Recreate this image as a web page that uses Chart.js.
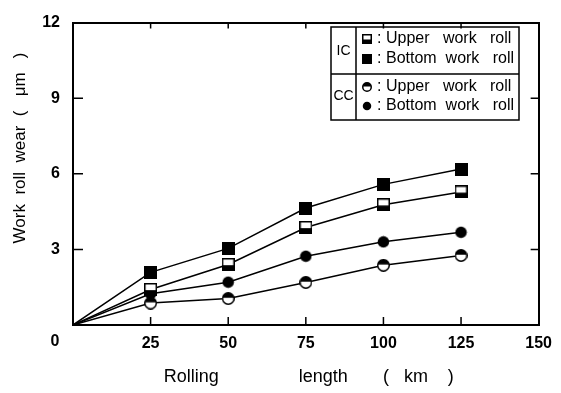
<!DOCTYPE html>
<html><head><meta charset="utf-8">
<script src="https://cdn.jsdelivr.net/npm/chart.js@4.4.1/dist/chart.umd.min.js"></script>
<style>html,body{margin:0;padding:0;background:#fff}#wrap{width:561px;height:393px;position:relative}</style>
</head><body><div id="wrap"><canvas id="c" width="561" height="393"></canvas></div>
<script>
// ---- data ----
const rollingLength = [0, 25, 50, 75, 100, 125];
const icUpper  = [0, 1.41, 2.40, 3.87, 4.77, 5.28];
const icBottom = [0, 2.09, 3.04, 4.64, 5.58, 6.19];
const ccUpper  = [0, 0.87, 1.05, 1.69, 2.37, 2.76];
const ccBottom = [0, 1.24, 1.70, 2.73, 3.30, 3.68];
const xTicks = [0, 25, 50, 75, 100, 125, 150];
const yTicks = [0, 3, 6, 9, 12];
const legendGroups = ['IC', 'CC'];
const legendLabels = ['Upper   work   roll', 'Bottom  work   roll'];
const xTitle = 'Rolling                length       (   km    )';
const yTitle = 'Work  roll  wear  (   μm   )';

const FONT = "'Liberation Sans', Arial, sans-serif";

function marker(shape, half, size) {
  const c = document.createElement('canvas');
  c.width = size; c.height = size;
  const g = c.getContext('2d');
  const lw = 1.5, h = size / 2;
  g.lineWidth = lw; g.strokeStyle = '#000'; g.fillStyle = '#000';
  if (shape === 'square') {
    if (!half) { g.fillRect(0, 0, size, size); }
    else {
      g.fillStyle = '#fff'; g.fillRect(0, 0, size, size);
      g.fillStyle = '#000'; g.fillRect(0, size * 0.55, size, size * 0.45);
      g.strokeRect(lw / 2, lw / 2, size - lw, size - lw);
    }
  } else {
    const r = h - lw / 2;
    g.beginPath(); g.arc(h, h, r, 0, 2 * Math.PI);
    g.fillStyle = half ? '#fff' : '#000'; g.fill();
    if (half) {
      g.save(); g.beginPath(); g.rect(0, 0, size, size * 0.45); g.clip();
      g.beginPath(); g.arc(h, h, r, 0, 2 * Math.PI); g.fillStyle = '#000'; g.fill();
      g.restore();
      g.beginPath(); g.arc(h, h, r, 0, 2 * Math.PI); g.stroke();
    }
  }
  return c;
}

const mk = {
  icUpper: marker('square', true, 13), icBottom: marker('square', false, 13),
  ccUpper: marker('circle', true, 13), ccBottom: marker('circle', false, 13)
};
const lg = [
  [marker('square', true, 10), marker('square', false, 10)],
  [marker('circle', true, 10), marker('circle', false, 10)]
];

function ds(label, vals, img) {
  return {
    label, data: rollingLength.map((x, i) => ({ x, y: vals[i] })),
    borderColor: '#000', borderWidth: 1.5, tension: 0, fill: false,
    pointStyle: img, pointRadius: c => c.dataIndex === 0 ? 0 : 6
  };
}

const decor = {
  id: 'decor',
  afterDraw(chart) {
    const { ctx, chartArea: a, scales: { x, y } } = chart;
    ctx.save();
    ctx.strokeStyle = '#000'; ctx.lineWidth = 1.5;
    // inward ticks
    ctx.beginPath();
    yTicks.forEach(v => {
      if (v === 0 || v === 12) return;
      const py = y.getPixelForValue(v);
      ctx.moveTo(a.left, py); ctx.lineTo(a.left + 10, py);
      ctx.moveTo(a.right, py); ctx.lineTo(a.right - 8, py);
    });
    xTicks.forEach(v => {
      if (v === 0 || v === 150) return;
      const px = x.getPixelForValue(v);
      ctx.moveTo(px, a.bottom); ctx.lineTo(px, a.bottom - 8);
      ctx.moveTo(px, a.top); ctx.lineTo(px, a.top + 6);
    });
    ctx.stroke();
    // origin label
    ctx.fillStyle = '#000';
    ctx.font = "bold 16px " + FONT;
    ctx.textAlign = 'center'; ctx.textBaseline = 'middle';
    ctx.fillText('0', a.left - 18, a.bottom + 17);
    // axis titles
    ctx.font = "18px " + FONT;
    ctx.fillText(xTitle, (a.left + a.right) / 2 + 3, 377);
    ctx.save();
    ctx.translate(20, 148); ctx.rotate(-Math.PI / 2);
    ctx.font = "17px " + FONT;
    ctx.fillText(yTitle, 0, 0);
    ctx.restore();
    // legend box
    const L = 331, R = 519, T = 27, B = 120, M = 74, V = 356;
    ctx.lineWidth = 1.5;
    ctx.strokeRect(L, T, R - L, B - T);
    ctx.beginPath();
    ctx.moveTo(L, M); ctx.lineTo(R, M);
    ctx.moveTo(V, T); ctx.lineTo(V, B);
    ctx.stroke();
    const rowsY = [[39, 59], [87, 106]];
    legendGroups.forEach((gname, gi) => {
      ctx.font = "14px " + FONT; ctx.textAlign = 'center';
      ctx.fillText(gname, (L + V) / 2, gi === 0 ? 51 : 96);
      legendLabels.forEach((lab, li) => {
        const yy = rowsY[gi][li];
        const img = lg[gi][li];
        ctx.drawImage(img, 367 - img.width / 2, yy - img.height / 2);
        ctx.font = "16px " + FONT; ctx.textAlign = 'left';
        ctx.fillText(':', 377, yy);
        ctx.fillText(lab, 386, yy);
      });
    });
    ctx.restore();
  }
};

const tickFont = { family: FONT, size: 16, weight: 'bold' };

new Chart(document.getElementById('c'), {
  type: 'line',
  data: {
    datasets: [
      ds('IC Upper work roll', icUpper, mk.icUpper),
      ds('IC Bottom work roll', icBottom, mk.icBottom),
      ds('CC Upper work roll', ccUpper, mk.ccUpper),
      ds('CC Bottom work roll', ccBottom, mk.ccBottom)
    ]
  },
  options: {
    responsive: false, animation: false, devicePixelRatio: 1,
    layout: { padding: { top: 13, right: 15, left: 0, bottom: 0 } },
    plugins: { legend: { display: false }, tooltip: { enabled: false } },
    scales: {
      x: {
        type: 'linear', position: 'bottom', min: 0, max: 150,
        afterBuildTicks: s => { s.ticks = xTicks.map(v => ({ value: v })); },
        grid: { display: false, drawTicks: false },
        border: { display: true, color: '#000', width: 2 },
        ticks: { color: '#000', font: tickFont, padding: 9, maxRotation: 0, autoSkip: false,
                 callback: v => v === 0 ? '' : String(v) },
        afterFit: s => { s.height = 68; }
      },
      y: {
        type: 'linear', position: 'left', min: 0, max: 12,
        afterBuildTicks: s => { s.ticks = yTicks.map(v => ({ value: v })); },
        grid: { display: false, drawTicks: false },
        border: { display: true, color: '#000', width: 2 },
        ticks: { color: '#000', font: tickFont, padding: 13, autoSkip: false,
                 callback: v => v === 0 ? '' : String(v) },
        afterFit: s => { s.width = 73; }
      },
      x2: {
        type: 'linear', position: 'top', min: 0, max: 150,
        grid: { display: false, drawTicks: false },
        border: { display: true, color: '#000', width: 2 },
        ticks: { display: false },
        afterFit: s => { s.height = 0; }
      },
      y2: {
        type: 'linear', position: 'right', min: 0, max: 12,
        grid: { display: false, drawTicks: false },
        border: { display: true, color: '#000', width: 2 },
        ticks: { display: false },
        afterFit: s => { s.width = 0; }
      }
    }
  },
  plugins: [decor]
});
</script>
</body></html>
